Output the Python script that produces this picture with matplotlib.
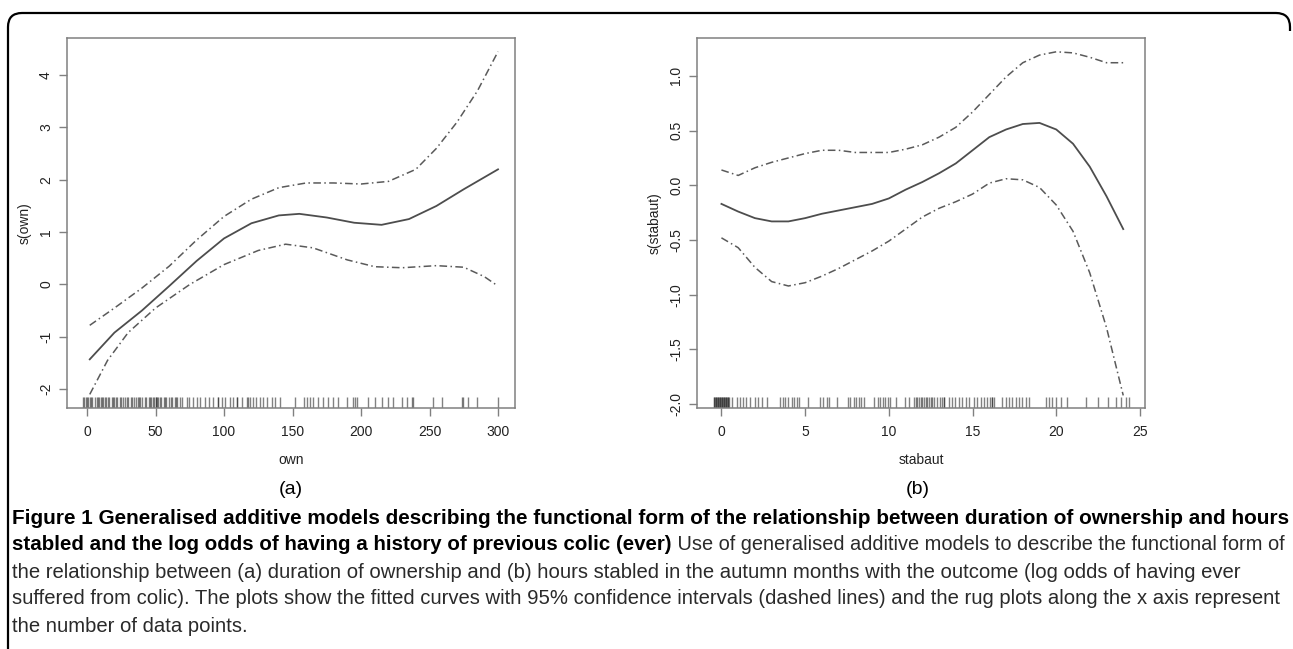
import matplotlib
matplotlib.use("Agg")
import matplotlib.pyplot as plt
from matplotlib.path import Path
from matplotlib.patches import PathPatch

# panel (a): duration of ownership
own_x = [2, 20, 40, 60, 80, 100, 120, 140, 155, 175, 195, 215, 235, 255, 275, 300]
own_fit = [-1.43, -0.92, -0.50, -0.03, 0.45, 0.88, 1.17, 1.32, 1.35, 1.28, 1.18, 1.14, 1.25, 1.50, 1.82, 2.20]
own_up_x = [2, 20, 40, 60, 80, 100, 120, 140, 160, 180, 200, 220, 240, 255, 270, 285, 300]
own_up = [-0.78, -0.45, -0.07, 0.35, 0.85, 1.30, 1.63, 1.85, 1.94, 1.94, 1.92, 1.97, 2.20, 2.60, 3.10, 3.70, 4.45]
own_lo_x = [2, 15, 30, 50, 75, 100, 125, 145, 165, 190, 210, 230, 255, 275, 290, 300]
own_lo = [-2.10, -1.45, -0.92, -0.45, 0.00, 0.38, 0.65, 0.77, 0.70, 0.47, 0.34, 0.32, 0.36, 0.33, 0.15, -0.03]
own_rug = [-3, -2, -1, 0, 1, 2, 3, 4, 6, 7, 8, 9, 10, 11, 12, 13, 14, 15, 16, 18, 19, 20,
           21, 22, 24, 25, 26, 28, 29, 30, 32, 33, 34, 36, 37, 38, 39, 40, 42, 43, 45, 46,
           47, 48, 49, 50, 50, 51, 52, 53, 54, 56, 57, 58, 60, 61, 62, 64, 65, 66, 68, 69,
           72.7, 74.7, 77.1, 80.0, 82.5, 86.1, 89.3, 92.2, 95.9, 95.9, 98.3, 100.7, 104.4,
           106.8, 109.7, 109.7, 112.9, 116.5, 117.8, 119.0, 121.4, 123.4, 126.3, 128.7,
           131.1, 134.8, 137.2, 140.9, 151.8, 158.4, 160.3, 162.8, 165.2, 168.9, 172.5,
           176.2, 179.8, 183.5, 189.5, 193.9, 195.6, 196.8, 205.4, 210.2, 215.1, 220.0,
           223.6, 229.7, 233.3, 237.0, 238.2, 252.8, 258.9, 273.5, 274.7, 278.3, 284.9, 300.2]

# panel (b): hours stabled in autumn
stab_x = list(range(0, 25))
stab_fit = [-0.17, -0.24, -0.30, -0.33, -0.33, -0.30, -0.26, -0.23, -0.20, -0.17, -0.12, -0.04, 0.03,
            0.11, 0.20, 0.32, 0.44, 0.51, 0.56, 0.57, 0.51, 0.38, 0.17, -0.10, -0.40]
stab_up = [0.14, 0.09, 0.16, 0.21, 0.25, 0.29, 0.32, 0.32, 0.30, 0.30, 0.30, 0.33, 0.37,
           0.44, 0.53, 0.67, 0.83, 0.99, 1.12, 1.19, 1.22, 1.21, 1.17, 1.12, 1.12]
stab_lo = [-0.48, -0.57, -0.75, -0.88, -0.92, -0.89, -0.83, -0.76, -0.68, -0.60, -0.51, -0.40, -0.29,
           -0.21, -0.15, -0.08, 0.02, 0.06, 0.05, -0.02, -0.18, -0.42, -0.80, -1.30, -1.92]
stab_rug = [-0.46, -0.42, -0.38, -0.34, -0.30, -0.26, -0.22, -0.18, -0.14, -0.10, -0.06, -0.02,
            0.02, 0.06, 0.10, 0.14, 0.18, 0.22, 0.26, 0.30, 0.34, 0.38, 0.42, 0.46,
            0.66, 0.90, 1.10, 1.26, 1.46, 1.70, 2.00, 2.21, 2.45, 2.73, 3.49, 3.65, 3.79, 3.99,
            4.19, 4.33, 4.49, 4.65, 5.19, 5.89, 6.09, 6.29, 6.45, 6.89, 7.53, 7.69, 7.89, 8.05,
            8.19, 8.33, 8.49, 9.09, 9.33, 9.49, 9.65, 9.79, 9.93, 10.09, 10.45, 10.98, 11.18,
            11.52, 11.60, 11.70, 11.80, 11.90, 12.00, 12.10, 12.20, 12.30, 12.40, 12.50, 12.60, 12.70,
            12.88, 13.08, 13.18, 13.32, 13.32, 13.58, 13.78, 13.98, 14.18, 14.38, 14.58, 14.78, 15.08,
            15.28, 15.48, 15.68, 15.88, 16.04, 16.18, 16.18, 16.28, 16.77, 16.98, 17.17, 17.38, 17.57,
            17.78, 17.97, 18.17, 18.37, 19.37, 19.57, 19.77, 19.97, 20.31, 20.63, 21.77, 22.51,
            23.07, 23.57, 23.87, 24.17, 24.37]

caption_bold_1 = ("Figure 1 Generalised additive models describing the functional form of the "
                  "relationship between duration of ownership and hours")
caption_bold_2 = "stabled and the log odds of having a history of previous colic (ever)"
caption_rest = [" Use of generalised additive models to describe the functional form of",
                "the relationship between (a) duration of ownership and (b) hours stabled in the "
                "autumn months with the outcome (log odds of having ever",
                "suffered from colic). The plots show the fitted curves with 95% confidence "
                "intervals (dashed lines) and the rug plots along the x axis represent",
                "the number of data points."]

W, H = 1293, 649
fig = plt.figure(figsize=(W / 100, H / 100), dpi=100)


def fx(px):
    return px / W


def fy(py):
    return 1 - py / H


# outer frame: left edge, top edge, rounded corners, open at the bottom
r = 14
verts = [(8, H + 5), (8, 13 + r), (8, 13), (8 + r, 13), (1290 - r, 13), (1290, 13), (1290, 13 + r),
         (1290, 13 + r + 4)]
codes = [Path.MOVETO, Path.LINETO, Path.CURVE3, Path.CURVE3, Path.LINETO, Path.CURVE3, Path.CURVE3,
         Path.LINETO]
frame = PathPatch(Path([(fx(a), fy(b)) for a, b in verts], codes), transform=fig.transFigure,
                  fill=False, edgecolor="black", linewidth=1.6, clip_on=False)
fig.patches.append(frame)

plot_font = ["Liberation Sans", "DejaVu Sans"]
cap_font = ["Liberation Sans", "DejaVu Sans"]
line_col = "#4d4d4d"
dash_col = "#5a5a5a"
dash = (0, (5, 2.2, 1, 2.2))


def panel(rect, xs, fit, uxs, up, lxs, lo, rug, xlim, ylim, xticks, yticks, ytl, xlabel, ylabel):
    ax = fig.add_axes(rect)
    ax.plot(xs, fit, color=line_col, lw=1.3)
    ax.plot(uxs, up, color=dash_col, lw=1.1, ls=dash)
    ax.plot(lxs, lo, color=dash_col, lw=1.1, ls=dash)
    ax.vlines(rug, 0, 0.03, transform=ax.get_xaxis_transform(), color="#1a1a1a",
              alpha=0.55, lw=1.0)
    ax.set_xlim(*xlim)
    ax.set_ylim(*ylim)
    ax.set_xticks(xticks)
    ax.set_yticks(yticks)
    ax.set_yticklabels(ytl, rotation=90, va="center")
    for s in ax.spines.values():
        s.set_color("#808080")
        s.set_linewidth(1.1)
    ax.tick_params(length=6, width=1, color="#808080", labelsize=10, labelcolor="#222222")
    ax.tick_params(axis="x", pad=6)
    ax.tick_params(axis="y", pad=4)
    for lab in ax.get_xticklabels() + ax.get_yticklabels():
        lab.set_family(plot_font)
    ax.set_xlabel(xlabel, fontsize=10, family=plot_font, color="#222222", labelpad=10)
    ax.set_ylabel(ylabel, fontsize=10, family=plot_font, color="#222222", labelpad=5)
    return ax


bottom = fy(408)
height = (408 - 38) / H
panel([fx(67), bottom, 448 / W, height], own_x, own_fit, own_up_x, own_up, own_lo_x, own_lo,
      own_rug, (-14.6, 312.4), (-2.36, 4.71), [0, 50, 100, 150, 200, 250, 300],
      [-2, -1, 0, 1, 2, 3, 4], ["-2", "-1", "0", "1", "2", "3", "4"], "own", "s(own)")
panel([fx(697), bottom, 448 / W, height], stab_x, stab_fit, stab_x, stab_up, stab_x, stab_lo,
      stab_rug, (-1.46, 25.3), (-2.035, 1.346), [0, 5, 10, 15, 20, 25],
      [-2.0, -1.5, -1.0, -0.5, 0.0, 0.5, 1.0],
      ["-2.0", "-1.5", "-1.0", "-0.5", "0.0", "0.5", "1.0"], "stabaut", "s(stabaut)")

fig.text(fx(291), fy(490), "(a)", ha="center", va="center", fontsize=14, family=cap_font)
fig.text(fx(918), fy(490), "(b)", ha="center", va="center", fontsize=14, family=cap_font)

# caption: sizes chosen so the lines span the same width as in the source
ys = [518, 545, 572, 599, 626]
rend = fig.canvas.get_renderer()
t1 = fig.text(fx(12), fy(ys[0]), caption_bold_1, fontsize=12, weight="bold", family=cap_font,
              va="center")
bold_size = 12 * (1283 - 12) / t1.get_window_extent(rend).width
t1.set_fontsize(bold_size)

probe = fig.text(0, 0, caption_rest[2], fontsize=12, family=cap_font)
reg_size = 12 * (1280 - 12) / probe.get_window_extent(rend).width
probe.remove()

b2 = fig.text(fx(12), fy(ys[1]), caption_bold_2, fontsize=bold_size, weight="bold",
              family=cap_font, va="center")
rest2 = plt.annotate(caption_rest[0], xy=(1, 0.5), xycoords=b2, va="center", ha="left",
                     fontsize=reg_size, family=cap_font, color="#2a2a2a")
total = b2.get_window_extent(rend).width + rest2.get_window_extent(rend).width
if total > 1283 - 12:
    k = (1283 - 12) / total
    b2.set_fontsize(bold_size * k)
    rest2.set_fontsize(reg_size * k)

for i, line in enumerate(caption_rest[1:]):
    fig.text(fx(12), fy(ys[i + 2]), line, fontsize=reg_size, family=cap_font, va="center",
             color="#2a2a2a")

fig.savefig("out.png", dpi=100)
